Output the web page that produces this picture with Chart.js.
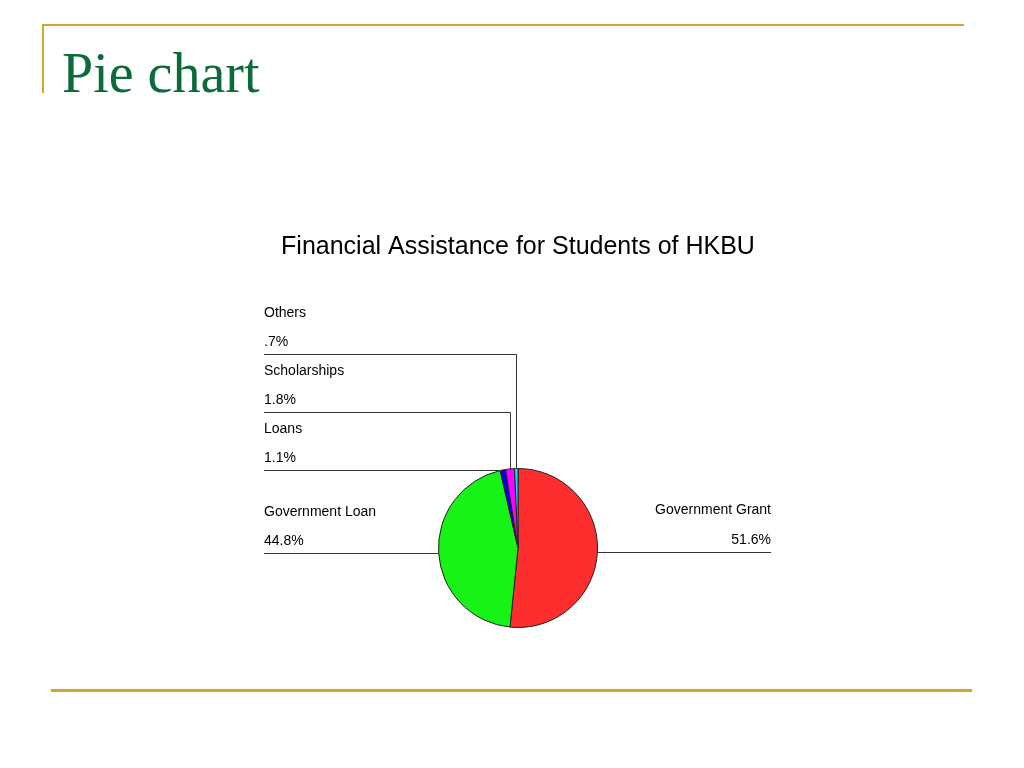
<!DOCTYPE html>
<html>
<head>
<meta charset="utf-8">
<title>Pie chart</title>
<script src="https://cdn.jsdelivr.net/npm/chart.js@4.4.1/dist/chart.umd.min.js"></script>
<style>
    html, body { margin: 0; padding: 0; background: #fff; overflow: hidden; }
    body { width: 1024px; height: 768px; position: relative; }
    .rule { position: absolute; background: #cfa62a; }
    #slideTitle {
        position: absolute; left: 62px; top: 41px; margin: 0;
        font-family: "Liberation Serif", "DejaVu Serif", serif;
        font-weight: normal; font-size: 56px; line-height: 64px; color: #0b6b3b;
    }
    #chartBox { position: absolute; left: 264px; top: 223px; width: 508px; height: 420px; }
</style>
</head>
<body>
<div class="rule" style="left:42px; top:24px; width:922px; height:2px;"></div>
<div class="rule" style="left:42px; top:24px; width:2px; height:69px;"></div>
<div class="rule" style="left:51px; top:689px; width:921px; height:3px;"></div>
<h1 id="slideTitle">Pie chart</h1>

<div id="chartBox"><canvas id="pieChart"></canvas></div>

<script>
// chart data
const sliceLabels = ['Government Grant', 'Government Loan', 'Loans', 'Scholarships', 'Others'];
const sliceValues = [51.6, 44.8, 1.1, 1.8, 0.7];
const sliceColours = ['#ff2e2e', '#17f217', '#0000ee', '#ff00ff', '#00e5ff'];

// SPSS style percent, ".7%" instead of "0.7%"
function formatPercent(value) {
    let s = value.toFixed(1);
    if (s.startsWith('0')) s = s.substring(1);
    return s + '%';
}

// draws the labels with leader lines, right side labels right aligned
const leaderLabels = {
    id: 'leaderLabels',
    afterDatasetsDraw(chart) {
        const ctx = chart.ctx;
        const meta = chart.getDatasetMeta(0);
        const total = sliceValues.reduce((a, b) => a + b, 0);
        const leftX = 0;
        const rightX = chart.width - 1;
        const slot = 58;
        let lastLeftY = Infinity;

        ctx.save();
        ctx.font = '14px "Liberation Sans", Arial, sans-serif';
        ctx.fillStyle = '#000';
        ctx.strokeStyle = '#333';
        ctx.lineWidth = 1;
        ctx.textBaseline = 'middle';

        meta.data.forEach((arc, i) => {
            const p = arc.getProps(['x', 'y', 'startAngle', 'endAngle', 'outerRadius'], true);
            const mid = (p.startAngle + p.endAngle) / 2;
            const ax = p.x + Math.cos(mid) * p.outerRadius;
            const ay = p.y + Math.sin(mid) * p.outerRadius;
            const onRight = Math.cos(mid) > 0;
            const pct = formatPercent(sliceValues[i] / total * 100);

            ctx.beginPath();
            if (onRight) {
                ctx.moveTo(ax, Math.round(ay) + 0.5);
                ctx.lineTo(rightX, Math.round(ay) + 0.5);
                ctx.stroke();
                ctx.textAlign = 'right';
                ctx.fillText(sliceLabels[i], rightX, ay - 42);
                ctx.fillText(pct, rightX, ay - 12);
            } else {
                let ly = Math.min(ay, lastLeftY - slot);
                lastLeftY = ly;
                const y = Math.round(ly) + 0.5;
                if (ly < ay - 1) {
                    const x = Math.round(ax) + 0.5;
                    ctx.moveTo(x, ay);
                    ctx.lineTo(x, y);
                    ctx.lineTo(leftX, y);
                } else {
                    ctx.moveTo(ax, y);
                    ctx.lineTo(leftX, y);
                }
                ctx.stroke();
                ctx.textAlign = 'left';
                ctx.fillText(sliceLabels[i], leftX, ly - 41);
                ctx.fillText(pct, leftX, ly - 12);
            }
        });
        ctx.restore();
    }
};

function createPieChart() {
    const ctx = document.getElementById('pieChart').getContext('2d');
    return new Chart(ctx, {
        type: 'pie',
        data: {
            labels: sliceLabels,
            datasets: [{
                data: sliceValues,
                backgroundColor: sliceColours,
                borderColor: '#222',
                borderWidth: 1
            }]
        },
        options: {
            responsive: true,
            maintainAspectRatio: false,
            animation: false,
            layout: { padding: { top: 0, bottom: 15, left: 0, right: 0 } },
            plugins: {
                legend: { display: false },
                tooltip: { enabled: false },
                title: {
                    display: true,
                    text: 'Financial Assistance for Students of HKBU',
                    color: '#000',
                    font: { family: '"Liberation Sans", Arial, sans-serif', size: 25, weight: 'normal' },
                    padding: { top: 9, bottom: 206 }
                }
            }
        },
        plugins: [leaderLabels]
    });
}

createPieChart();
</script>
</body>
</html>
